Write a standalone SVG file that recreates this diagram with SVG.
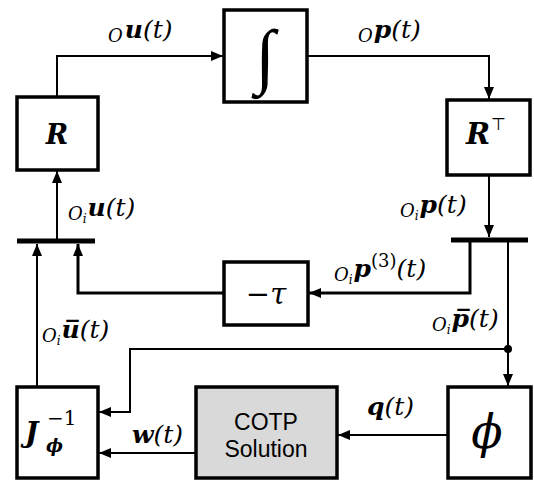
<svg xmlns="http://www.w3.org/2000/svg" width="534" height="481" viewBox="0 0 534 481">
<defs>
<style>
.box{fill:#fff;stroke:#000;stroke-width:3.5}
.gray{fill:#d9d9d9}
.conn{fill:none;stroke:#000;stroke-width:2}
.thick{stroke-width:3}
.bar{stroke:#000;stroke-width:5}
.m{font-family:"DejaVu Serif","Liberation Serif",serif;font-style:italic;font-size:25px;fill:#000}
.b{font-weight:bold}
.s{font-size:18px;font-weight:normal}
.ss{font-size:12px}
.up{font-style:normal}
.sans{font-family:"Liberation Sans",Arial,sans-serif;font-size:23px;fill:#000}
</style>
<marker id="ah" markerWidth="12" markerHeight="10" refX="12" refY="5" orient="auto" markerUnits="userSpaceOnUse">
<path d="M0,0 L12,5 L0,10 z" fill="#000"/>
</marker>
</defs>
<rect width="534" height="481" fill="#fff"/>
<g id="connectors">
<path class="conn" d="M57,97 V56 H223" marker-end="url(#ah)"/>
<path class="conn" d="M307,56 H489 V99" marker-end="url(#ah)"/>
<path class="conn" d="M489,175 V237" marker-end="url(#ah)"/>
<path class="conn thick" d="M470,242 V293 H309" marker-end="url(#ah)"/>
<path class="conn" d="M508,242 V386" marker-end="url(#ah)"/>
<path class="conn" d="M508,349 H130 V412 H99" marker-end="url(#ah)"/>
<circle cx="508" cy="349" r="4" fill="#000"/>
<path class="conn thick" d="M224,293 H78 V244" marker-end="url(#ah)"/>
<path class="conn" d="M37,387 V244" marker-end="url(#ah)"/>
<path class="conn" d="M57,239 V171" marker-end="url(#ah)"/>
<path class="conn" d="M448,435 H338" marker-end="url(#ah)"/>
<path class="conn" d="M196,453 H99" marker-end="url(#ah)"/>
<line class="bar" x1="17" y1="241" x2="95" y2="241"/>
<line class="bar" x1="451" y1="240" x2="528" y2="240"/>
</g>
<g id="labels">
<text class="m" x="108" y="38"><tspan class="s" dy="4">O</tspan><tspan class="b" dy="-4" dx="2">u</tspan><tspan>(t)</tspan></text>
<text class="m" x="358" y="38"><tspan class="s" dy="4">O</tspan><tspan class="b" dy="-4" dx="1">p</tspan><tspan>(t)</tspan></text>
<text class="m" x="68" y="216"><tspan class="s" dy="4">O</tspan><tspan class="ss" dy="3">i</tspan><tspan class="b" dy="-7" dx="1">u</tspan><tspan>(t)</tspan></text>
<text class="m" x="400" y="213"><tspan class="s" dy="4">O</tspan><tspan class="ss" dy="3">i</tspan><tspan class="b" dy="-7" dx="1">p</tspan><tspan>(t)</tspan></text>
<text class="m" x="334" y="277"><tspan class="s" dy="4">O</tspan><tspan class="ss" dy="3">i</tspan><tspan class="b" dy="-7" dx="1">p</tspan><tspan class="s up" dy="-10">(3)</tspan><tspan dy="10">(t)</tspan></text>
<text class="m" x="432" y="327"><tspan class="s" dy="4">O</tspan><tspan class="ss" dy="3">i</tspan><tspan class="b" dy="-7" dx="1">p̅</tspan><tspan>(t)</tspan></text>
<text class="m" x="42" y="338"><tspan class="s" dy="4">O</tspan><tspan class="ss" dy="3">i</tspan><tspan class="b" dy="-7" dx="1">u̅</tspan><tspan>(t)</tspan></text>
<text class="m" x="132" y="443"><tspan class="b">w</tspan><tspan>(t)</tspan></text>
<text class="m" x="367" y="415"><tspan class="b">q</tspan><tspan>(t)</tspan></text>
</g>
<g id="node-R">
<rect class="box" x="17" y="97" width="81" height="73"/>
<text class="m b" x="57" y="144" style="font-size:27px" text-anchor="middle">R</text>
</g>
<g id="node-integral">
<rect class="box" x="224" y="10" width="83" height="92"/>
<text x="265" y="80" style="font-family:'Liberation Serif',serif;font-style:italic;font-size:72px" text-anchor="middle">∫</text>
</g>
<g id="node-RT">
<rect class="box" x="447" y="100" width="83" height="75"/>
<text class="m" x="466" y="144" style="font-size:29px"><tspan class="b">R</tspan><tspan class="up" style="font-family:'Liberation Sans',sans-serif;font-size:17px" dy="-14" dx="1">⊤</tspan></text>
</g>
<g id="node-tau">
<rect class="box" x="224" y="262" width="84" height="63"/>
<text class="m" x="266" y="304" style="font-size:29px" text-anchor="middle"><tspan class="up">−</tspan>τ</text>
</g>
<g id="node-Jinv">
<rect class="box" x="17" y="387" width="81" height="91"/>
<text class="m b" x="25" y="442" style="font-size:28px">J</text>
<text class="m up" x="47" y="425" style="font-size:20px">−1</text>
<text class="m b" x="46" y="452" style="font-size:18px">ϕ</text>
</g>
<g id="node-COTP">
<rect class="box gray" x="196" y="387" width="141" height="91"/>
<text class="sans" x="266" y="430" text-anchor="middle">COTP</text>
<text class="sans" x="266" y="457" text-anchor="middle">Solution</text>
</g>
<g id="node-phi">
<rect class="box" x="448" y="387" width="83" height="91"/>
<text x="487" y="448" style="font-family:'DejaVu Serif',serif;font-style:italic;font-size:46px" text-anchor="middle">ϕ</text>
</g>
</svg>
